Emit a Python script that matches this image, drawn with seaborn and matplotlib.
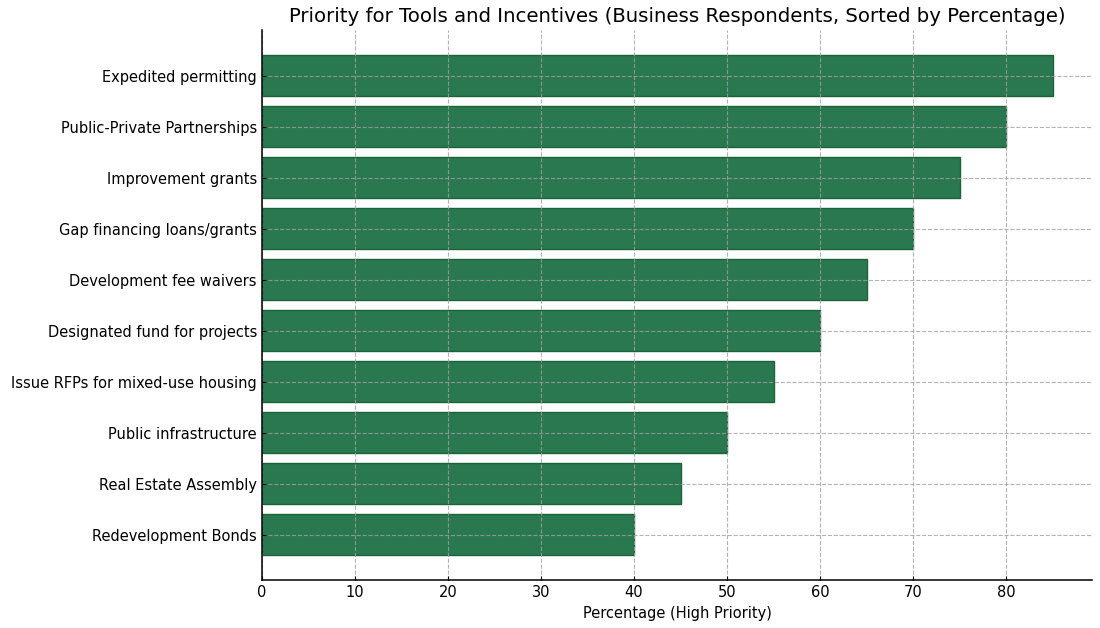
import pandas as pd
import matplotlib
matplotlib.use('Agg')
import matplotlib.pyplot as plt
import seaborn as sns

# Values, sorted high to low
tools = ['Expedited permitting', 'Public-Private Partnerships', 'Improvement grants',
         'Gap financing loans/grants', 'Development fee waivers', 'Designated fund for projects',
         'Issue RFPs for mixed-use housing', 'Public infrastructure', 'Real Estate Assembly',
         'Redevelopment Bonds']
pct_high = [85, 80, 75, 70, 65, 60, 55, 50, 45, 40]

df = pd.DataFrame({'Tool': tools, 'Percentage': pct_high})

plt.rcParams['font.family'] = ['DejaVu Sans']

fig, ax = plt.subplots(figsize=(11, 6.28), dpi=100)
sns.barplot(data=df, x='Percentage', y='Tool', orient='h', color='#2a7850',
            saturation=1, edgecolor='#1d6338', linewidth=1, width=0.8, ax=ax)

n = len(tools)
ax.set_ylim(n - 1 + 0.89, -0.89)
ax.set_xlim(0, max(pct_high) * 1.05)

ax.set_axisbelow(False)
ax.grid(True, linestyle='--', color='#a0a0a0', linewidth=0.8, alpha=0.8)
ax.spines['top'].set_visible(False)
ax.spines['right'].set_visible(False)
for side in ['left', 'bottom']:
    ax.spines[side].set_color('black')
    ax.spines[side].set_linewidth(1.1)
    ax.spines[side].set_zorder(5)

ax.set_title('Priority for Tools and Incentives (Business Respondents, Sorted by Percentage)',
             fontsize=14.2)
ax.set_xlabel('Percentage (High Priority)', fontsize=10.5)
ax.set_ylabel('')
ax.tick_params(labelsize=10.5, direction='in', length=3, colors='black')

fig.subplots_adjust(left=0.238, right=0.993, top=0.952, bottom=0.076)
fig.savefig('out.png', dpi=100)
